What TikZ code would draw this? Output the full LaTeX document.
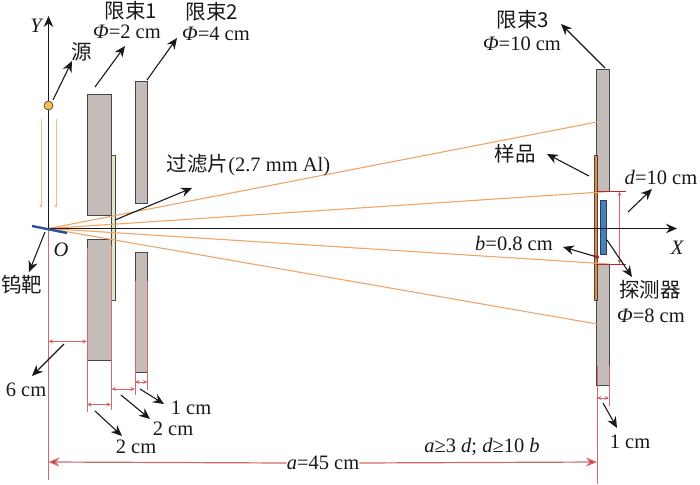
\documentclass[tikz,border=0pt]{standalone}
\usepackage{fontspec}
\setmainfont{Liberation Serif}
\newfontfamily\cjk{Noto Sans CJK SC}
\usetikzlibrary{arrows.meta}
\definecolor{blockgray}{HTML}{C3BCB8}
\definecolor{edgegray}{HTML}{4A4545}
\definecolor{dimred}{HTML}{D2686A}
\definecolor{darkred}{HTML}{B8282C}
\definecolor{rayorange}{HTML}{EFA565}
\definecolor{sampleorange}{HTML}{E8893C}
\definecolor{tgtblue}{HTML}{2F5597}
\definecolor{detblue}{HTML}{4A7EB5}
\definecolor{filtgreen}{HTML}{DDEBCB}
\definecolor{srcyellow}{HTML}{F2C14A}
\newcommand{\lf}{\fontsize{20.5}{22}\selectfont}
\tikzset{
  lab/.style={font=\lf,inner sep=0pt,text=black!90},
  labi/.style={font=\lf\itshape,inner sep=0pt,text=black!90},
  zh/.style={font=\lf\cjk,inner sep=0pt,text=black!90},
  block/.style={draw=edgegray,fill=blockgray,line width=1pt},
  axis/.style={draw=black!90,line width=1.3pt,-{Stealth[length=11pt,width=9.5pt]}},
  leader/.style={draw=black!90,line width=1.1pt,-{Stealth[length=11pt,width=9.5pt]}},
  ray/.style={draw=rayorange,line width=1.1pt},
  ext/.style={draw=dimred,line width=0.9pt},
  dimen/.style={draw=dimred,line width=0.9pt,{Stealth[length=4.5pt,width=4pt,fill=darkred]}-{Stealth[length=4.5pt,width=4pt,fill=darkred]}},
  bigdim/.style={draw=dimred,line width=1.2pt,-{Stealth[length=11pt,width=9pt,fill=darkred]}},
  faint/.style={draw=rayorange!75,line width=0.8pt,-{Stealth[length=4pt,width=3.5pt]}}
}
\begin{document}
\begin{tikzpicture}[x=1pt,y=-1pt]
\useasboundingbox (0,0) rectangle (700,484);
% named points
\coordinate (O) at (48.5,228.5);
\coordinate (Ytop) at (48.5,16);
\coordinate (Xend) at (677,228.5);
\coordinate (Rba) at (597,122);
\coordinate (Rbb) at (609,191.5);
\coordinate (Rbc) at (609,264);
\coordinate (Rbd) at (597,324);
% faint arrows
\coordinate (fa1) at (41,119); \coordinate (fa2) at (41,208);
\coordinate (fb1) at (56,119); \coordinate (fb2) at (56,208);
\draw[faint] (fa1) -- (fa2);
\draw[faint] (fb1) -- (fb2);
% shapes
\filldraw[block] (87,95) rectangle (111,215);
\filldraw[block] (87,239) rectangle (111,360);
\filldraw[draw=edgegray,fill=filtgreen,line width=0.9pt] (111,155) rectangle (115,300);
\filldraw[block] (135,82) rectangle (147.5,203);
\filldraw[block] (135,252) rectangle (147.5,372);
\filldraw[block] (596.7,70) rectangle (609,191);
\filldraw[block] (596.7,264) rectangle (609,385);
\filldraw[draw=edgegray,fill=sampleorange,line width=0.4pt] (593.8,155) rectangle (596.7,300);
% rays
\draw[ray] (O) -- (Rba);
\draw[ray] (O) -- (Rbb);
\draw[ray] (O) -- (Rbc);
\draw[ray] (O) -- (Rbd);
% extension lines
\coordinate (e0a) at (48.5,229); \coordinate (e0b) at (48.5,480);
\draw[ext] (e0a) -- (e0b);
\coordinate (e1a) at (87,248); \coordinate (e1b) at (87,412);
\coordinate (e2a) at (111,245); \coordinate (e2b) at (111,410);
\coordinate (e3a) at (135,281); \coordinate (e3b) at (135,395);
\coordinate (e4a) at (147.5,281); \coordinate (e4b) at (147.5,390);
\coordinate (e5a) at (597,366); \coordinate (e5b) at (597,484);
\coordinate (e6a) at (609,366); \coordinate (e6b) at (609,406);
\draw[ext] (e1a) -- (e1b);
\draw[ext] (e2a) -- (e2b);
\draw[ext] (e3a) -- (e3b);
\draw[ext] (e4a) -- (e4b);
\draw[ext] (e5a) -- (e5b);
\draw[ext] (e6a) -- (e6b);
% dimension arrows
\coordinate (d1a) at (48.5,341.5); \coordinate (d1b) at (87,341.5);
\coordinate (d2a) at (87,404.5); \coordinate (d2b) at (111,404.5);
\coordinate (d3a) at (111.5,389); \coordinate (d3b) at (135,389);
\coordinate (d4a) at (135,382); \coordinate (d4b) at (147.5,382);
\coordinate (d5a) at (597,398); \coordinate (d5b) at (609,398);
\draw[dimen] (d1a) -- (d1b);
\draw[dimen] (d2a) -- (d2b);
\draw[dimen] (d3a) -- (d3b);
\draw[dimen] (d4a) -- (d4b);
\draw[dimen] (d5a) -- (d5b);
% d = 10 cm bracket
\coordinate (ht1) at (596,191.5); \coordinate (ht2) at (626,191.5);
\coordinate (hb1) at (596,264); \coordinate (hb2) at (626,264);
\coordinate (dt) at (619.5,191.5); \coordinate (db) at (619.5,264);
\draw[draw=darkred,line width=0.8pt] (ht1) -- (ht2);
\draw[draw=darkred,line width=0.8pt] (hb1) -- (hb2);
\draw[dimen] (dt) -- (db);
% detector
\filldraw[draw=tgtblue!70!black,fill=detblue,line width=0.5pt] (600,200) rectangle (606,254.5);
% axes
\draw[axis] (O) -- (Ytop);
\draw[axis] (O) -- (Xend);
% target
\coordinate (t1) at (32,226); \coordinate (t2) at (67,233);
\draw[draw=tgtblue,line width=2.4pt] (t1) -- (t2);
% source
\node[circle,draw=edgegray,fill=srcyellow,line width=0.7pt,minimum size=9pt,inner sep=0pt] (src) at (48.5,105.5) {};
% labels
\node[labi] (lY) at (36,26) {Y};
\node[labi] (lX) at (677,248) {X};
\node[labi] (lO) at (61,250) {O};
\node[zh] (lsrc) at (82,52) {源};
\node[zh] (l1a) at (131,11) {限束1};
\node[lab] (l1b) at (127,32) {\textit{Φ}=2 cm};
\node[zh] (l2a) at (212,12) {限束2};
\node[lab] (l2b) at (216,34) {\textit{Φ}=4 cm};
\node[lab] (lf) at (248.5,165) {{\cjk 过滤片}(2.7 mm Al)};
\node[zh] (l3a) at (523,20) {限束3};
\node[lab] (l3b) at (522,44) {\textit{Φ}=10 cm};
\node[zh] (ls) at (515,154) {样品};
\node[lab] (ld) at (661,177) {\textit{d}=10 cm};
\node[lab] (lb) at (514,244) {\textit{b}=0.8 cm};
\node[zh] (ldet) at (650,290) {探测器};
\node[lab] (ldet2) at (651,316) {\textit{Φ}=8 cm};
\node[zh] (lt) at (22,285) {钨靶};
\node[lab] (l6) at (26,390) {6 cm};
\node[lab] (lc1) at (191,408) {1 cm};
\node[lab] (lc2) at (173,429) {2 cm};
\node[lab] (lc3) at (136,447) {2 cm};
\node[lab] (la) at (323,463) {\textit{a}=45 cm};
\node[lab] (lr) at (482,447) {\textit{a}≥3 \textit{d}; \textit{d}≥10 \textit{b}};
\node[lab] (lc4) at (630,442) {1 cm};
% a=45 arrow
\coordinate (aL) at (48.5,462); \coordinate (aR) at (597,462);
\draw[bigdim] (la.west) -- (aL);
\draw[bigdim] (la.east) -- (aR);
% leaders
\coordinate (a1) at (53,100); \coordinate (a1e) at (72,61);
\coordinate (a2) at (95,87); \coordinate (a2e) at (125,46);
\coordinate (a3) at (147,80); \coordinate (a3e) at (177,38);
\coordinate (a4) at (115,220); \coordinate (a4e) at (192,188);
\coordinate (a5) at (605,68); \coordinate (a5e) at (561,24);
\coordinate (a6) at (589,176); \coordinate (a6e) at (547,154);
\coordinate (a7) at (628,212); \coordinate (a7e) at (652,189);
\coordinate (a8) at (597,257); \coordinate (a8e) at (563,247);
\coordinate (a9) at (607,240); \coordinate (a9e) at (632,277);
\coordinate (a10) at (45,232); \coordinate (a10e) at (29,272);
\coordinate (a11) at (64,344); \coordinate (a11e) at (32,376);
\coordinate (a12) at (95,411); \coordinate (a12e) at (122,436);
\coordinate (a13) at (121,395); \coordinate (a13e) at (150,419);
\coordinate (a14) at (140,389); \coordinate (a14e) at (164,404);
\coordinate (a15) at (603,403); \coordinate (a15e) at (617,428);
\foreach \s/\e in {a1/a1e,a2/a2e,a3/a3e,a4/a4e,a5/a5e,a6/a6e,a7/a7e,a8/a8e,a9/a9e,a10/a10e,a11/a11e,a12/a12e,a13/a13e,a14/a14e,a15/a15e}
  \draw[leader] (\s) -- (\e);
\fill[darkred] (a8) circle (2pt);
\end{tikzpicture}
\end{document}
